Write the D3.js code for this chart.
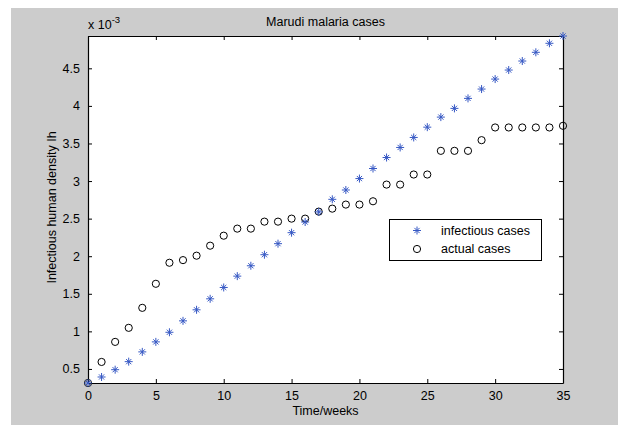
<!DOCTYPE html>
<html>
<head>
<meta charset="utf-8">
<script src="https://cdn.jsdelivr.net/npm/d3@7"></script>
<style>
  body { margin: 0; background: #fff; }
  text { font-family: "Liberation Sans", Arial, sans-serif; fill: #000; }
</style>
</head>
<body>
<div id="chart"></div>
<script>
// data, units of 1e-3
var weeks = d3.range(0, 36);
var infectious = [0.313, 0.393, 0.49, 0.597, 0.727, 0.86, 0.988, 1.14, 1.287, 1.433,
  1.584, 1.735, 1.873, 2.02, 2.167, 2.313, 2.455, 2.59, 2.757, 2.881,
  3.033, 3.167, 3.313, 3.447, 3.58, 3.717, 3.851, 3.967, 4.1, 4.224,
  4.357, 4.477, 4.597, 4.713, 4.833, 4.93];
var actual = [0.313, 0.593, 0.86, 1.047, 1.313, 1.633, 1.913, 1.948, 2.007, 2.14,
  2.273, 2.367, 2.367, 2.46, 2.46, 2.5, 2.5, 2.593, 2.633, 2.687,
  2.687, 2.731, 2.953, 2.953, 3.087, 3.087, 3.402, 3.402, 3.402, 3.544,
  3.713, 3.713, 3.713, 3.713, 3.713, 3.735];
var xTicks = [0, 5, 10, 15, 20, 25, 30, 35];
var yTicks = [0.5, 1, 1.5, 2, 2.5, 3, 3.5, 4, 4.5];
var seriesNames = ["infectious cases", "actual cases"];

var W = 618, H = 425;
var fs = 12.5;
var margin = {top: 36, right: 55, bottom: 42, left: 88},
    width = W - margin.left - margin.right,
    height = H - margin.top - margin.bottom;

var svg = d3.select("#chart")
  .append("svg")
    .attr("width", W)
    .attr("height", H);

// figure background
svg.append("rect")
  .attr("x", 11).attr("y", 8)
  .attr("width", W - 11).attr("height", H - 8)
  .attr("fill", "#cccccc");

var g = svg.append("g")
  .attr("transform", "translate(" + margin.left + "," + margin.top + ")");

g.append("rect")
  .attr("width", width).attr("height", height)
  .attr("fill", "#fff");

var x = d3.scaleLinear().domain([0, 35]).range([0, width]);
var y = d3.scaleLinear().domain([0.313, 4.93]).range([height, 0]);

var fmt = function(d) { return d3.format("")(d); };

// axes with inward ticks
g.append("g")
  .attr("transform", "translate(0," + height + ")")
  .call(d3.axisBottom(x).tickValues(xTicks).tickSizeInner(-4).tickSizeOuter(0).tickPadding(8).tickFormat(fmt));
g.append("g")
  .call(d3.axisTop(x).tickValues(xTicks).tickSizeInner(-4).tickSizeOuter(0).tickFormat(""));
g.append("g")
  .call(d3.axisLeft(y).tickValues(yTicks).tickSizeInner(-4).tickSizeOuter(0).tickPadding(8).tickFormat(fmt));
g.append("g")
  .attr("transform", "translate(" + width + ",0)")
  .call(d3.axisRight(y).tickValues(yTicks).tickSizeInner(-4).tickSizeOuter(0).tickFormat(""));

g.selectAll(".domain").attr("stroke", "#000").attr("stroke-width", 1.2);
g.selectAll(".tick line").attr("stroke", "#000");
g.selectAll(".tick text").attr("font-size", fs).attr("fill", "#000")
  .style("font-family", "'Liberation Sans', Arial, sans-serif");

// title and labels
svg.append("text")
  .attr("x", margin.left + width / 2).attr("y", 26)
  .attr("text-anchor", "middle").attr("font-size", fs)
  .text("Marudi malaria cases");

svg.append("text")
  .attr("x", margin.left + width / 2).attr("y", 415)
  .attr("text-anchor", "middle").attr("font-size", fs)
  .text("Time/weeks");

svg.append("text")
  .attr("transform", "translate(56," + (margin.top + height / 2 - 2) + ") rotate(-90)")
  .attr("text-anchor", "middle").attr("font-size", fs)
  .text("Infectious human density Ih");

var mult = svg.append("text")
  .attr("x", margin.left).attr("y", 29).attr("font-size", fs);
mult.append("tspan").text("x 10");
mult.append("tspan").attr("dy", -6).attr("font-size", 9.5).text("-3");

// markers
var starColor = "#3658c4";
function starPath(cx, cy) {
  var a = 4, b = 2.6;
  return "M" + (cx - a) + "," + cy + "H" + (cx + a) +
    "M" + cx + "," + (cy - a) + "V" + (cy + a) +
    "M" + (cx - b) + "," + (cy - b) + "L" + (cx + b) + "," + (cy + b) +
    "M" + (cx - b) + "," + (cy + b) + "L" + (cx + b) + "," + (cy - b);
}

g.selectAll(".act")
  .data(weeks)
  .enter().append("circle")
    .attr("class", "act")
    .attr("cx", function(d) { return x(d); })
    .attr("cy", function(d) { return y(actual[d]); })
    .attr("r", 3.6)
    .attr("fill", "none")
    .attr("stroke", "#000")
    .attr("stroke-width", 1);

g.selectAll(".inf")
  .data(weeks)
  .enter().append("path")
    .attr("class", "inf")
    .attr("d", function(d) { return starPath(x(d), y(infectious[d])); })
    .attr("fill", "none")
    .attr("stroke", starColor)
    .attr("stroke-width", 1);

// legend
var lg = svg.append("g").attr("transform", "translate(389,219)");
lg.append("rect")
  .attr("x", 0.5).attr("y", 0.5)
  .attr("width", 152).attr("height", 41)
  .attr("fill", "#fff").attr("stroke", "#000");
lg.append("path")
  .attr("d", starPath(28, 11.5))
  .attr("fill", "none").attr("stroke", starColor);
lg.append("circle")
  .attr("cx", 28).attr("cy", 30).attr("r", 3.6)
  .attr("fill", "none").attr("stroke", "#000");
lg.selectAll(".lt")
  .data(seriesNames)
  .enter().append("text")
    .attr("x", 52)
    .attr("y", function(d, i) { return 15.5 + i * 18.5; })
    .attr("font-size", fs)
    .text(function(d) { return d; });
</script>
</body>
</html>
